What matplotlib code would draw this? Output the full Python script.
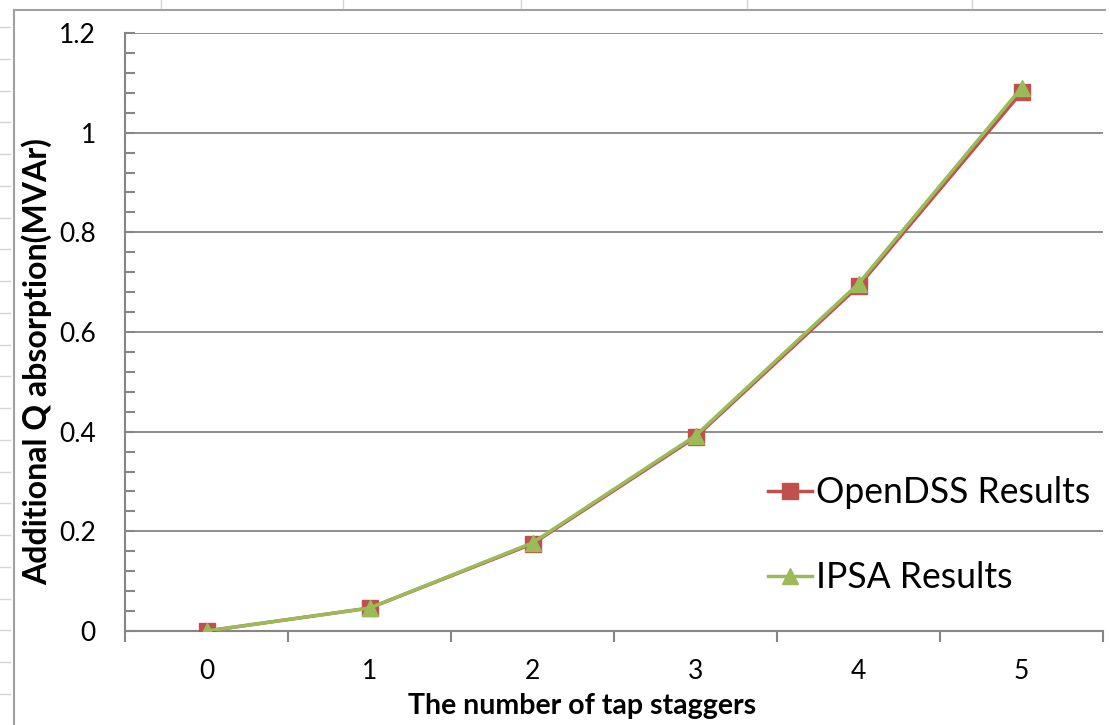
import matplotlib.pyplot as plt
import matplotlib.lines as mlines
import numpy as np

# tap staggers vs additional reactive power absorption
staggers = [0, 1, 2, 3, 4, 5]
opendss = [0.0, 0.046, 0.175, 0.389, 0.692, 1.081]
ipsa = [0.0, 0.046, 0.177, 0.392, 0.697, 1.090]

plt.rcParams['font.family'] = ['Lato', 'DejaVu Sans']
gray = '#868686'

W, H = 1110, 725
fig = plt.figure(figsize=(W / 100, H / 100), dpi=100)
ax = fig.add_axes([125 / W, 1 - 631 / H, (1103 - 125) / W, (631 - 33) / H])

ax.plot(staggers, opendss, color='#C0504D', lw=2.5, marker='s', markersize=11,
        label='OpenDSS Results', zorder=3)
ax.plot(staggers, ipsa, color='#9BBB59', lw=2.5, marker='^', markersize=11,
        label='IPSA Results', zorder=4)

ax.set_xlim(-0.5, 5.5)
ax.set_ylim(0, 1.2)

# category axis: tick marks between categories, labels on categories
ax.set_xticks(np.arange(-0.5, 6, 1))
ax.set_xticklabels([])
ax.set_xticks(staggers, minor=True)
ax.set_xticklabels([str(s) for s in staggers], minor=True)
ax.tick_params(axis='x', which='major', direction='out', length=8, width=1.5, color=gray)
ax.tick_params(axis='x', which='minor', length=0, pad=20, labelsize=19)

ax.set_yticks(np.arange(0, 1.21, 0.2))
ax.set_yticklabels(['0', '0.2', '0.4', '0.6', '0.8', '1', '1.2'])
ax.set_yticks(np.arange(0, 1.21, 0.04), minor=True)
ax.tick_params(axis='y', which='both', direction='in', length=7, width=1.5, color=gray)
ax.tick_params(axis='y', which='major', pad=21, labelsize=19)

ax.grid(axis='y', which='major', color=gray, lw=1.3)
ax.set_axisbelow(True)
for s in ['top', 'right']:
    ax.spines[s].set_visible(False)
for s in ['left', 'bottom']:
    ax.spines[s].set_color(gray)
    ax.spines[s].set_linewidth(1.5)

fig.text(582 / W, 1 - 706 / H, 'The number of tap staggers', ha='center', va='center',
         fontsize=20.5, fontweight='bold')
fig.text(37 / W, 1 - 362 / H, 'Additional Q absorption(MVAr)', ha='center', va='center',
         rotation=90, fontsize=23, fontweight='bold')

ax.legend(loc='center left', bbox_to_anchor=(768 / W, 1 - 535 / H),
          bbox_transform=fig.transFigure, frameon=False, fontsize=25.6,
          handlelength=1.25, handletextpad=0.1, labelspacing=1.46,
          borderpad=0, borderaxespad=0)

# chart frame and sheet gridline stubs around it
border = '#a0a0a0'
fig.add_artist(mlines.Line2D([14 / W, 14 / W], [0, 1 - 10 / H], color=border, lw=1.5))
fig.add_artist(mlines.Line2D([14 / W, 1105 / W], [1 - 10 / H, 1 - 10 / H], color=border, lw=1.5))
for k in range(22):
    y = 1 - (27 + 31.75 * k) / H
    fig.add_artist(mlines.Line2D([0, 10 / W], [y, y], color='#d4d4d4', lw=1))
for x in [161, 343, 521, 747, 972]:
    fig.add_artist(mlines.Line2D([x / W, x / W], [1, 1 - 8 / H], color='#d4d4d4', lw=1))

plt.savefig('out.png', dpi=100)
